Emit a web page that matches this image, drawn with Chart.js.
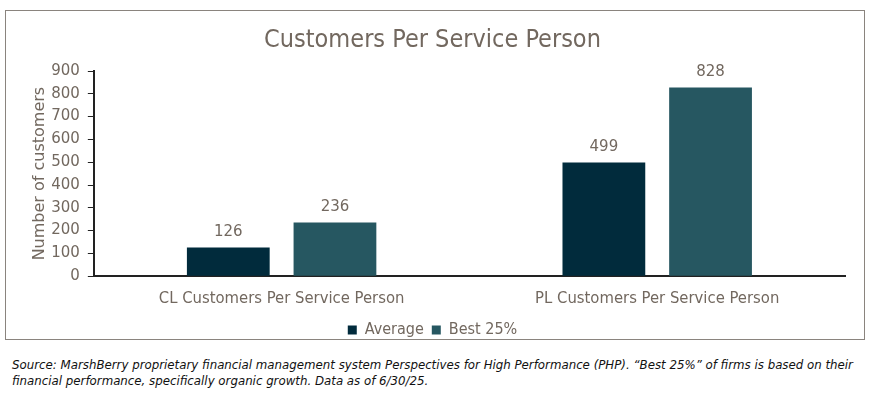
<!DOCTYPE html>
<html>
<head>
<meta charset="utf-8">
<script src="https://cdn.jsdelivr.net/npm/chart.js@4.4.0/dist/chart.umd.min.js"></script>
<style>
  body { margin: 0; background: #fff; width: 871px; height: 397px; position: relative; overflow: hidden; }
  #box { position: absolute; left: 5px; top: 10px; width: 858px; height: 328px; border: 1px solid #8a847e; pointer-events: none; }
  #chartCanvas { position: absolute; left: 6px; top: 11px; }
  #note { position: absolute; left: 12px; top: 357px; width: 860px; font-family: "DejaVu Sans"; font-style: italic; font-size: 11.8px; line-height: 16px; color: #111; }
</style>
</head>
<body>
<canvas id="chartCanvas" width="857" height="337"></canvas>
<div id="box"></div>
<div id="note">Source: MarshBerry proprietary financial management system Perspectives for High Performance (PHP). “Best 25%” of firms is based on their financial performance, specifically organic growth. Data as of 6/30/25.</div>
<script>
let categories = ['CL Customers Per Service Person', 'PL Customers Per Service Person'];
let averageValues = [126, 499];
let best25Values = [236, 828];
let yTicks = [0, 100, 200, 300, 400, 500, 600, 700, 800, 900];

let textColor = '#72685f';
let condensed = '"DejaVu Sans Condensed", "DejaVu Sans"';

// Etiket nilai di atas batang
let valueLabels = {
    id: 'valueLabels',
    afterDatasetsDraw(chart) {
        let ctx = chart.ctx;
        ctx.save();
        ctx.font = '15px "DejaVu Sans"';
        ctx.fillStyle = textColor;
        ctx.textAlign = 'center';
        ctx.textBaseline = 'bottom';
        chart.data.datasets.forEach((ds, i) => {
            chart.getDatasetMeta(i).data.forEach((bar, j) => {
                ctx.fillText(ds.data[j], bar.x, bar.y - 8);
            });
        });
        ctx.restore();
    }
};

let ctx = document.getElementById('chartCanvas').getContext('2d');
let chart = new Chart(ctx, {
    type: 'bar',
    data: {
        labels: categories,
        datasets: [{
            label: 'Average',
            data: averageValues,
            backgroundColor: '#012b3c',
            categoryPercentage: 0.568,
            barPercentage: 0.776
        }, {
            label: 'Best 25%',
            data: best25Values,
            backgroundColor: '#265761',
            categoryPercentage: 0.568,
            barPercentage: 0.776
        }]
    },
    options: {
        responsive: false,
        animation: false,
        layout: { padding: { left: 14, right: 18, top: 0, bottom: 0 } },
        plugins: {
            title: {
                display: true,
                text: 'Customers Per Service Person',
                color: textColor,
                font: { family: condensed, size: 25, weight: 'normal' },
                padding: { top: 14, bottom: 16 }
            },
            legend: {
                position: 'bottom',
                labels: {
                    color: textColor,
                    font: { family: condensed, size: 16 },
                    boxWidth: 9,
                    boxHeight: 9,
                    padding: 8
                }
            },
            tooltip: { enabled: false }
        },
        scales: {
            x: {
                grid: { display: false },
                border: { display: true, color: '#222', width: 2 },
                ticks: {
                    color: textColor,
                    font: { family: condensed, size: 16.5 },
                    padding: 5
                }
            },
            y: {
                min: 0,
                max: 900,
                afterBuildTicks: axis => { axis.ticks = yTicks.map(v => ({ value: v })); },
                grid: { drawOnChartArea: false, drawTicks: true, tickLength: 6, color: '#222' },
                border: { display: true, color: '#222', width: 2 },
                ticks: {
                    color: textColor,
                    font: { family: '"DejaVu Sans"', size: 15 },
                    padding: 8
                },
                title: {
                    display: true,
                    text: 'Number of customers',
                    color: textColor,
                    font: { family: '"DejaVu Sans"', size: 16 },
                    padding: { top: 10, bottom: -6 }
                }
            }
        }
    },
    plugins: [valueLabels]
});
</script>
</body>
</html>
